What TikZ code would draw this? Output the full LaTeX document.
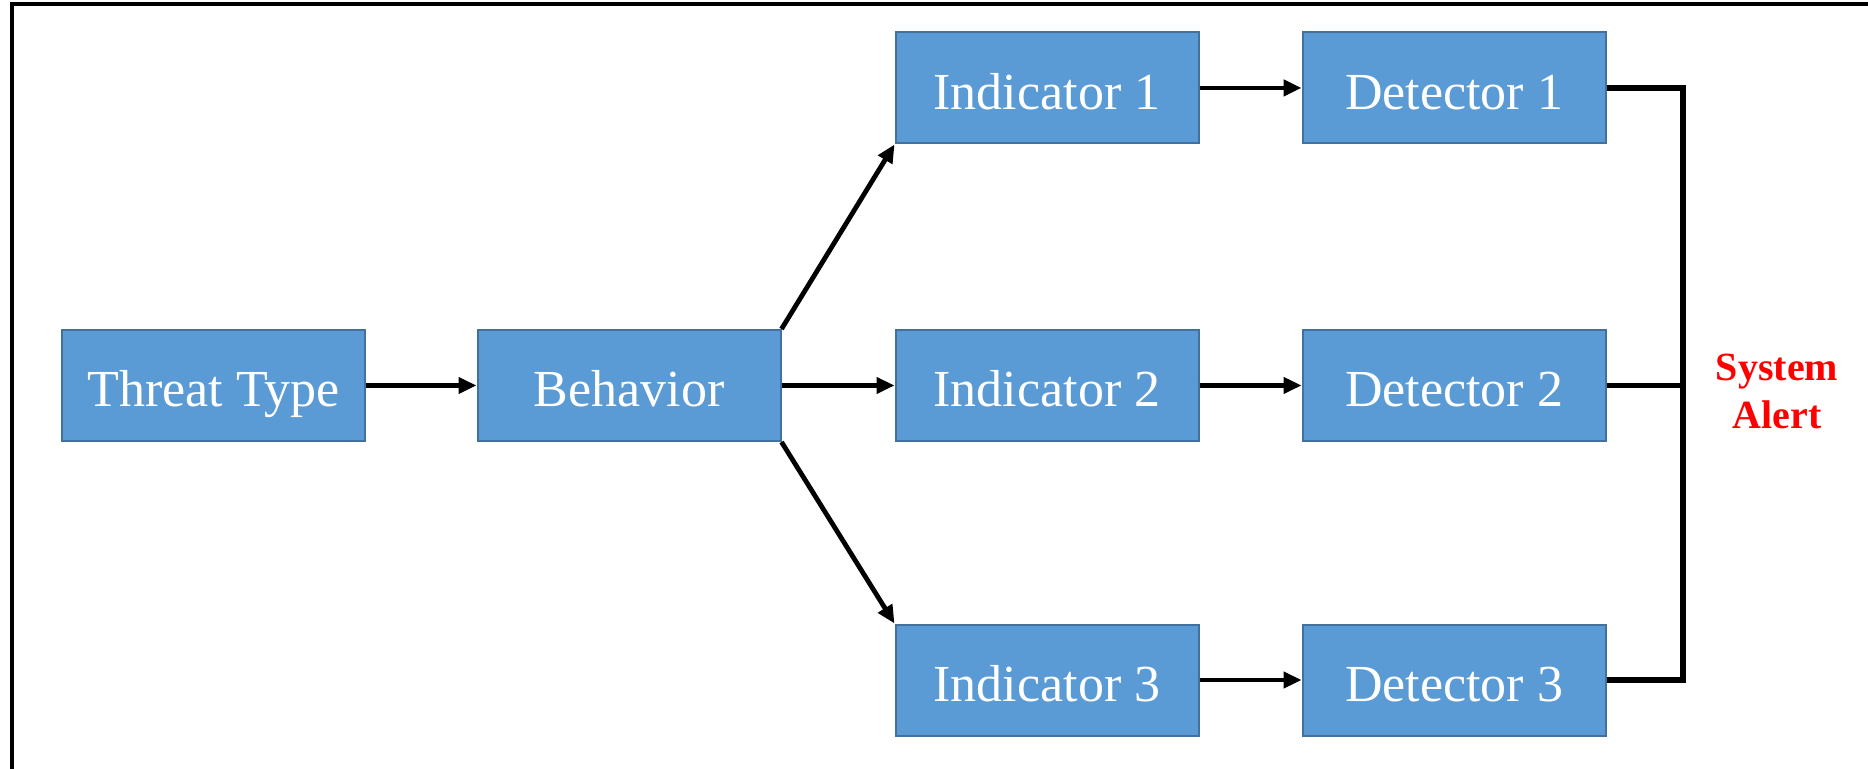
\documentclass[tikz,border=0pt]{standalone}
\usepackage{fontspec}
\setmainfont{Liberation Serif}
\usetikzlibrary{arrows.meta}
\definecolor{boxblue}{HTML}{5B9BD5}
\definecolor{boxedge}{HTML}{41719C}
\tikzset{
  stage/.style={draw=boxedge,line width=1pt,fill=boxblue,text=white,
    minimum width=151.5pt,minimum height=55.5pt,inner sep=0pt,
    text height=21.4pt,text depth=0pt,font=\fontsize{26}{30}\selectfont},
  flow/.style={line width=2.4pt,-{Triangle[length=9pt,width=8pt]}},
  bus/.style={line width=2.8pt}
}
\begin{document}
\begin{tikzpicture}[x=0.5pt,y=-0.5pt]
\useasboundingbox (0,0) rectangle (1868,769);
\draw[line width=1.6pt] (12,769) -- (12,4) -- (1868,4);
\node[stage] (threat) at (213.5,385.5) {Threat Type};
\node[stage] (behav) at (629,385.5) {Behavior};
\node[stage] (ind1) at (1047,88) {Indicator 1};
\node[stage] (ind2) at (1047,385.5) {Indicator 2};
\node[stage] (ind3) at (1047,680) {Indicator 3};
\node[stage] (det1) at (1454,88) {Detector 1};
\node[stage] (det2) at (1454,385.5) {Detector 2};
\node[stage] (det3) at (1454,680) {Detector 3};
\coordinate (top) at (1683,86);
\coordinate (mid) at (1683,384);
\coordinate (bot) at (1683,682);
\node[text=red,font=\fontsize{20}{24}\selectfont\bfseries,align=center] (alert) at (1777,391) {System\\Alert};
\draw[flow] (threat) -- (behav);
\draw[flow] (behav) -- (ind2);
\draw[flow] (behav.north east) -- (ind1.south west);
\draw[flow] (behav.south east) -- (ind3.north west);
\draw[flow] (ind1) -- (det1);
\draw[flow] (ind2) -- (det2);
\draw[flow] (ind3) -- (det3);
\draw[bus] (det1.east) -- (det1.east -| top) -- (bot |- det3.east) -- (det3.east);
\draw[bus] (det2.east) -- (det2.east -| mid);
\end{tikzpicture}
\end{document}
